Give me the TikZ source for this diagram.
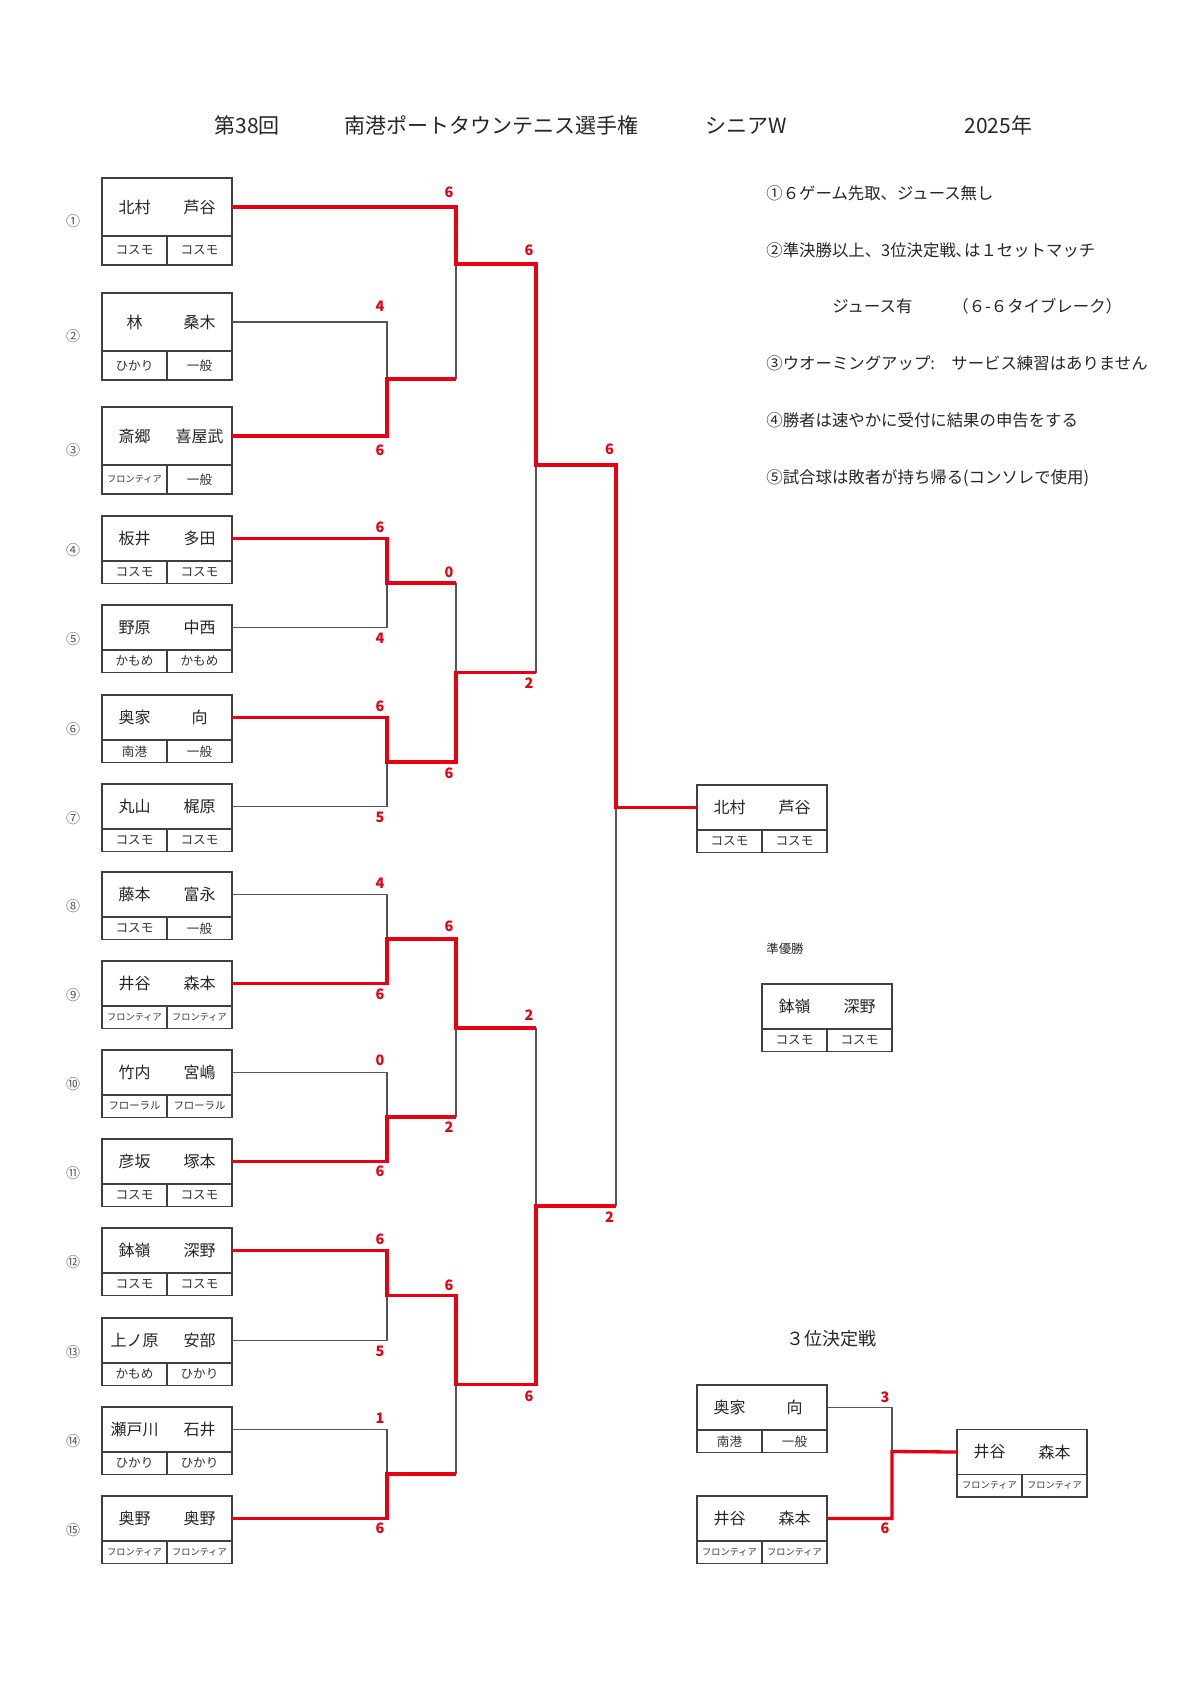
\documentclass[tikz,border=0pt]{standalone}
\usepackage{fontspec}
\setmainfont{Noto Sans CJK JP}
\usetikzlibrary{calc}

\definecolor{wred}{RGB}{230,0,18}
\definecolor{boxc}{RGB}{64,64,64}
\definecolor{lgray}{RGB}{85,85,85}

\def\uh{22.5pt}  % height of name row
\def\lh{11.25pt} % height of club row
\newcommand{\fro}{\fontsize{4.6}{5}\selectfont フロンティア}
\newcommand{\flo}{\fontsize{5.2}{6}\selectfont フローラル}

\tikzset{
  upper/.style={draw=boxc, line width=0.7pt, minimum width=65pt, minimum height=\uh, inner sep=0pt, outer sep=0pt},
  club/.style={draw=boxc, line width=0.7pt, minimum width=32.5pt, minimum height=\lh, inner sep=0pt, outer sep=0pt,
    font=\fontsize{6.3}{7}\selectfont, text=black!80},
  nm/.style={font=\fontsize{8}{9}\selectfont, text=black!85, inner sep=0pt},
  seed/.style={font=\fontsize{7}{8}\selectfont, text=black!65, inner sep=0pt},
  score/.style={font=\fontsize{7.2}{8}\selectfont\bfseries, text=wred, inner sep=0pt},
  note/.style={font=\fontsize{8.2}{9}\selectfont, text=black!85, anchor=west, inner sep=0pt},
  ttl/.style={font=\fontsize{10.5}{12}\selectfont, text=black!85, anchor=west, inner sep=0pt},
  win/.style={draw=wred, line width=1.65pt},
  lost/.style={draw=lgray, line width=0.55pt},
}

% one pair: name, x, y of top, two names, two clubs
\newcommand{\duo}[7]{%
  \node[upper, anchor=north west] (#1) at (#2,#3) {};
  \node[nm] (#1l) at ($(#1.west)!.5!(#1.center)$) {#4};
  \node[nm] (#1r) at ($(#1.center)!.5!(#1.east)$) {#5};
  \node[club, anchor=north west] (#1a) at (#1.south west) {#6};
  \node[club, anchor=north west] (#1b) at (#1a.north east) {#7};
}

\begin{document}
\begin{tikzpicture}[x=0.5pt,y=-0.5pt]
  \fill[white] (0,0) rectangle (1190,1683);
  \useasboundingbox (0,0) rectangle (1190,1683);

  % heading
  \node[ttl] (hd1) at (214,125.5) {第38回};
  \node[ttl] (hd2) at (344,125.5) {南港ポートタウンテニス選手権};
  \node[ttl] (hd3) at (705,125.5) {シニアW};
  \node[ttl] (hd4) at (964,125.5) {2025年};

  % rules
  \node[note] (rule1) at (766,193.5) {①６ゲーム先取、ジュース無し};
  \node[note] (rule2) at (766,250) {②準決勝以上、3位決定戦､は１セットマッチ};
  \node[note] (rule3) at (832,306.5) {ジュース有};
  \node[note] (rule3b) at (952,306.5) {（６-６タイブレーク）};
  \node[note] (rule4) at (766,363) {③ウオーミングアップ:　サービス練習はありません};
  \node[note] (rule5) at (766,420) {④勝者は速やかに受付に結果の申告をする};
  \node[note] (rule6) at (766,478.5) {⑤試合球は敗者が持ち帰る(コンソレで使用)};

  % draw pairs
  \def\uh{29pt}\def\lh{14.5pt}
  \duo{p1}{102}{178}{北村}{芦谷}{コスモ}{コスモ}
  \duo{p2}{102}{293}{林}{桑木}{ひかり}{一般}
  \duo{p3}{102}{407}{斎郷}{喜屋武}{\fro}{一般}
  \def\uh{22.5pt}\def\lh{11.25pt}
  \duo{p4}{102}{516}{板井}{多田}{コスモ}{コスモ}
  \duo{p5}{102}{605}{野原}{中西}{かもめ}{かもめ}
  \duo{p6}{102}{695}{奥家}{向}{南港}{一般}
  \duo{p7}{102}{784}{丸山}{梶原}{コスモ}{コスモ}
  \duo{p8}{102}{872}{藤本}{富永}{コスモ}{一般}
  \duo{p9}{102}{961}{井谷}{森本}{\fro}{\fro}
  \duo{p10}{102}{1050}{竹内}{宮嶋}{\flo}{\flo}
  \duo{p11}{102}{1139}{彦坂}{塚本}{コスモ}{コスモ}
  \duo{p12}{102}{1228}{鉢嶺}{深野}{コスモ}{コスモ}
  \duo{p13}{102}{1318}{上ノ原}{安部}{かもめ}{ひかり}
  \duo{p14}{102}{1407}{瀬戸川}{石井}{ひかり}{ひかり}
  \duo{p15}{102}{1496}{奥野}{奥野}{\fro}{\fro}

  \foreach \i/\c in {1/①,2/②,3/③,4/④,5/⑤,6/⑥,7/⑦,8/⑧,9/⑨,10/⑩,11/⑪,12/⑫,13/⑬,14/⑭,15/⑮}
    \node[seed] (n\i) at ($(p\i.north west)!.5!(p\i a.south west)+(-29,0)$) {\c};

  % final, runner-up, third place
  \duo{fin}{697}{785}{北村}{芦谷}{コスモ}{コスモ}
  \node[seed, anchor=west, font=\fontsize{6.2}{7}\selectfont, text=black!85] (sub) at (766,948.5) {準優勝};
  \duo{ru}{762}{984}{鉢嶺}{深野}{コスモ}{コスモ}
  \node[nm, font=\fontsize{9}{10}\selectfont] (third) at (831,1339) {３位決定戦};
  \duo{ta}{697}{1385}{奥家}{向}{南港}{一般}
  \duo{tb}{697}{1496}{井谷}{森本}{\fro}{\fro}
  \duo{tc}{957}{1429.5}{井谷}{森本}{\fro}{\fro}

  % joints of the bracket
  \def\xa{387} \def\xb{456} \def\xc{536} \def\xd{616}
  \coordinate (m23) at (\xa,379);
  \coordinate (m45) at (\xa,583);
  \coordinate (m67) at (\xa,762);
  \coordinate (m89) at (\xa,939);
  \coordinate (m1011) at (\xa,1117);
  \coordinate (m1213) at (\xa,1295.5);
  \coordinate (m1415) at (\xa,1474);
  \coordinate (q1) at (\xb,264);
  \coordinate (q2) at (\xb,672.5);
  \coordinate (q3) at (\xb,1028);
  \coordinate (q4) at (\xb,1384.5);
  \coordinate (s1) at (\xc,465);
  \coordinate (s2) at (\xc,1206);
  \coordinate (f) at (\xd,807.5);
  \coordinate (t1) at (892,1451.5);

  % losers
  \draw[lost] (p2.east) -| (m23);
  \draw[lost] (p5.east) -| (m45);
  \draw[lost] (p7.east) -| (m67);
  \draw[lost] (p8.east) -| (m89);
  \draw[lost] (p10.east) -| (m1011);
  \draw[lost] (p13.east) -| (m1213);
  \draw[lost] (p14.east) -| (m1415);
  \draw[lost] (m23 -| q1) -- (q1);
  \draw[lost] (m45 -| q2) -- (q2);
  \draw[lost] (m1011 -| q3) -- (q3);
  \draw[lost] (m1415 -| q4) -- (q4);
  \draw[lost] (q2 -| s1) -- (s1);
  \draw[lost] (q3 -| s2) -- (s2);
  \draw[lost] (s2 -| f) -- (f);
  \draw[lost] (ta.east) -| (t1);

  % winners
  \draw[win] (p1.east) -| (q1) -| (s1) -| (f) -- (fin.west);
  \draw[win] (p3.east) -| (m23) -- (m23 -| q1);
  \draw[win] (p4.east) -| (m45) -- (m45 -| q2);
  \draw[win] (p6.east) -| (m67) -| (q2) -- (q2 -| s1);
  \draw[win] (p9.east) -| (m89) -| (q3) -- (q3 -| s2);
  \draw[win] (p11.east) -| (m1011) -- (m1011 -| q3);
  \draw[win] (p12.east) -| (m1213) -| (q4) -| (s2) -- (s2 -| f);
  \draw[win] (p15.east) -| (m1415) -- (m1415 -| q4);
  \draw[win] (tb.east) -| (t1) -- (tc.west);

  % scores
  \foreach \n/\px/\py/\s in {a1/380/306.5/4, a2/380/450/6, a3/380/527/6, a4/380/638.5/4,
      a5/380/706/6, a6/380/817.5/5, a7/380/883/4, a8/380/994.5/6, a9/380/1060/0,
      a10/380/1171.5/6, a11/380/1239.5/6, a12/380/1351/5, a13/380/1418.5/1, a14/380/1528.5/6,
      b1/449/192.5/6, b2/449/572/0, b3/449/773.5/6, b4/449/926.5/6, b5/449/1127/2, b6/449/1285/6,
      c1/529/250/6, c2/529/683/2, c3/529/1015/2, c4/529/1396/6,
      d1/609.5/449.5/6, d2/609.5/1217/2, e1/885/1397/3, e2/885/1528.5/6}
    \node[score] (g\n) at (\px,\py) {\s};
\end{tikzpicture}
\end{document}
